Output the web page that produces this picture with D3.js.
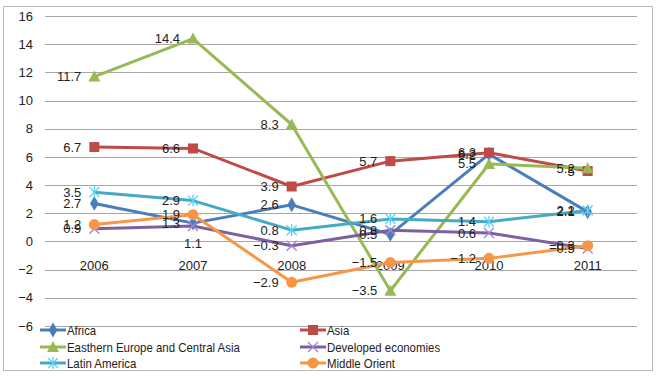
<!DOCTYPE html>
<html><head><meta charset="utf-8">
<script src="https://cdn.jsdelivr.net/npm/d3@7"></script>
<style>body{margin:0;background:#fff}text{font-family:"Liberation Sans",Arial,sans-serif;fill:#222}</style>
</head><body><svg id="c" width="658" height="376"></svg>
<script>
const years = ["2006","2007","2008","2009","2010","2011"];
const yTicks = [-6,-4,-2,0,2,4,6,8,10,12,14,16];
const africa = [2.7, 1.3, 2.6, 0.5, 6.2, 2.1];
const asia = [6.7, 6.6, 3.9, 5.7, 6.3, 5.0];
const easternEurope = [11.7, 14.4, 8.3, -3.5, 5.5, 5.2];
const developed = [0.9, 1.1, -0.3, 0.8, 0.6, -0.5];
const latinAmerica = [3.5, 2.9, 0.8, 1.6, 1.4, 2.2];
const middleOrient = [1.2, 1.9, -2.9, -1.5, -1.2, -0.3];

const series = [
  {name:"Africa", values:africa, color:"#4A7EBB", marker:"diamond"},
  {name:"Asia", values:asia, color:"#BE4B48", marker:"square"},
  {name:"Easthern Europe and Central Asia", values:easternEurope, color:"#98B954", marker:"triangle"},
  {name:"Developed economies", values:developed, color:"#7D60A0", marker:"x"},
  {name:"Latin America", values:latinAmerica, color:"#46AAC5", marker:"star"},
  {name:"Middle Orient", values:middleOrient, color:"#F79646", marker:"circle"}
];

const svg = d3.select("#c");
svg.append("rect").attr("x",3.5).attr("y",6.5).attr("width",649).attr("height",364)
  .attr("fill","#fff").attr("stroke","#b8b8b8").attr("stroke-width",1);

const x = d3.scaleBand().domain(years).range([45,637]);
const y = d3.scaleLinear().domain([-6,16]).range([326,16]);
const cx = d => x(d) + x.bandwidth()/2;

svg.append("g").selectAll("line").data(yTicks).join("line")
  .attr("x1",45).attr("x2",637).attr("y1",d=>Math.round(y(d))+0.5).attr("y2",d=>Math.round(y(d))+0.5)
  .attr("stroke","#a6a6a6").attr("stroke-width",1);

const yAxis = d3.axisLeft(y).tickValues(yTicks).tickSize(0).tickPadding(0);
const ga = svg.append("g").attr("transform","translate(33,0)").call(yAxis);
ga.select(".domain").remove();
ga.selectAll("text").attr("font-size","13px").style("font-family","Liberation Sans, Arial").attr("fill","#222");

svg.append("g").selectAll("text").data(years).join("text")
  .attr("x",d=>cx(d)).attr("y",y(0)+29).attr("text-anchor","middle").attr("font-size","13px").text(d=>d);

function drawMarker(g, type, color){
  if(type==="diamond"){
    g.append("path").attr("d",d3.symbol(d3.symbolDiamond, 64)()).attr("fill",color);
  } else if(type==="square"){
    g.append("rect").attr("x",-5).attr("y",-5).attr("width",10).attr("height",10).attr("fill",color);
  } else if(type==="triangle"){
    g.append("path").attr("d","M0,-6L6,5L-6,5Z").attr("fill",color);
  } else if(type==="circle"){
    g.append("circle").attr("r",5.5).attr("fill",color);
  } else if(type==="x"){
    g.append("path").attr("d","M-5,-5L5,5M-5,5L5,-5").attr("stroke",d3.color(color).brighter(0.8)).attr("stroke-width",1.3).attr("fill","none");
  } else if(type==="star"){
    g.append("path").attr("d","M-5,-5L5,5M-5,5L5,-5M0,-6L0,6").attr("stroke",d3.color(color).brighter(0.6)).attr("stroke-width",1.3).attr("fill","none");
  }
}

const line = d3.line().x((d,i)=>cx(years[i])).y(d=>y(d));

series.forEach(s=>{
  svg.append("path").datum(s.values).attr("d",line).attr("fill","none")
    .attr("stroke",s.color).attr("stroke-width",3).attr("stroke-linejoin","round");
});
series.forEach(s=>{
  s.values.forEach((v,i)=>{
    const g = svg.append("g").attr("transform",`translate(${cx(years[i])},${y(v)})`);
    drawMarker(g, s.marker, s.color);
  });
});
// data labels: left of the point, except the one the reference puts below
series.forEach(s=>{
  svg.append("g").selectAll("text").data(s.values).join("text")
    .each(function(d,i){
      const below = (s.name==="Developed economies" && i===1);
      const px = cx(years[i]), py = y(d);
      d3.select(this)
        .attr("x", below ? px : px-13)
        .attr("y", below ? py+22 : py+4.5)
        .attr("text-anchor", below ? "middle" : "end");
    })
    .attr("font-size","13px").attr("fill","#222")
    .text(d=>d3.format("")(d));
});

const legPos = [[40,330],[300,330],[40,347],[300,347],[40,363],[300,363]];
series.forEach((s,i)=>{
  const [lx,ly] = legPos[i];
  const g = svg.append("g").attr("transform",`translate(${lx},${ly})`);
  g.append("line").attr("x1",0).attr("x2",26).attr("y1",0).attr("y2",0).attr("stroke",s.color).attr("stroke-width",3);
  const m = g.append("g").attr("transform","translate(13,0)");
  drawMarker(m, s.marker, s.color);
  g.append("text").attr("transform","translate(27,4.5) scale(0.88,1)").attr("font-size","13px").text(s.name);
});
</script></body></html>
